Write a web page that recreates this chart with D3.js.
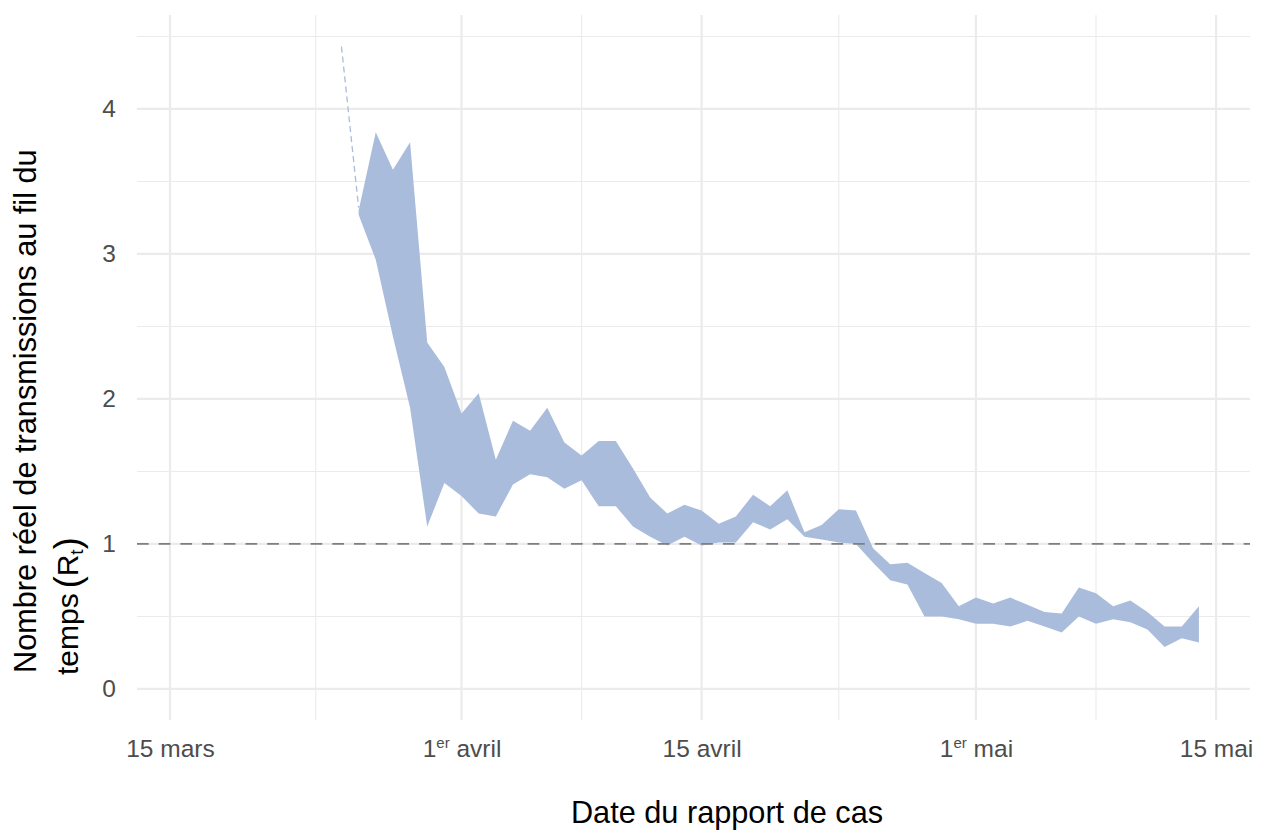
<!DOCTYPE html>
<html>
<head>
<meta charset="utf-8">
<script src="https://cdn.jsdelivr.net/npm/d3@7"></script>
<style>
  body { margin: 0; background: #fff; }
  text { font-family: "Liberation Sans", Arial, sans-serif; }
</style>
</head>
<body>
<svg id="chart" width="1268" height="831"></svg>
<script>
// ribbon (daily Rt interval)
const ribbonDates = [
  "2020-03-26","2020-03-27","2020-03-28","2020-03-29","2020-03-30","2020-03-31",
  "2020-04-01","2020-04-02","2020-04-03","2020-04-04","2020-04-05","2020-04-06",
  "2020-04-07","2020-04-08","2020-04-09","2020-04-10","2020-04-11","2020-04-12",
  "2020-04-13","2020-04-14","2020-04-15","2020-04-16","2020-04-17","2020-04-18",
  "2020-04-19","2020-04-20","2020-04-21","2020-04-22","2020-04-23","2020-04-24",
  "2020-04-25","2020-04-26","2020-04-27","2020-04-28","2020-04-29","2020-04-30",
  "2020-05-01","2020-05-02","2020-05-03","2020-05-04","2020-05-05","2020-05-06",
  "2020-05-07","2020-05-08","2020-05-09","2020-05-10","2020-05-11","2020-05-12",
  "2020-05-13","2020-05-14"
];
const rtUpper = [
  3.30, 3.84, 3.58, 3.77, 2.39, 2.22,
  1.90, 2.04, 1.58, 1.85, 1.78, 1.94,
  1.70, 1.61, 1.71, 1.71, 1.52, 1.32,
  1.21, 1.27, 1.23, 1.14, 1.19, 1.34,
  1.26, 1.37, 1.08, 1.13, 1.24, 1.23,
  0.97, 0.86, 0.87, 0.80, 0.73, 0.57,
  0.63, 0.59, 0.63, 0.58, 0.53, 0.52,
  0.70, 0.66, 0.57, 0.61, 0.53, 0.43,
  0.43, 0.57
];
const rtLower = [
  3.27, 2.96, 2.43, 1.94, 1.12, 1.42,
  1.33, 1.21, 1.19, 1.41, 1.48, 1.46,
  1.38, 1.44, 1.26, 1.26, 1.12, 1.05,
  0.99, 1.05, 0.99, 1.01, 1.01, 1.15,
  1.10, 1.17, 1.05, 1.03, 1.01, 1.00,
  0.87, 0.75, 0.72, 0.50, 0.50, 0.48,
  0.45, 0.45, 0.43, 0.47, 0.43, 0.39,
  0.50, 0.45, 0.48, 0.46, 0.41, 0.29,
  0.35, 0.32
];
// first estimate, drawn as a thin dashed line
const earlyDates = ["2020-03-25", "2020-03-26"];
const earlyRt = [4.43, 3.32];

const xTickDates = ["2020-03-15", "2020-04-01", "2020-04-15", "2020-05-01", "2020-05-15"];
const xTickLabels = ["15 mars", "1er avril", "15 avril", "1er mai", "15 mai"];
const yTicks = [0, 1, 2, 3, 4];
const yMinorTicks = [0.5, 1.5, 2.5, 3.5, 4.5];
const threshold = 1;

const svg = d3.select("#chart");
const pLeft = 137, pRight = 1250, pTop = 15, pBottom = 720;
const day = 864e5;
const parse = d3.utcParse("%Y-%m-%d");

const x = d3.scaleUtc()
  .domain([new Date(+parse("2020-03-15") - 1.924 * day), new Date(+parse("2020-05-15") + 1.98 * day)])
  .range([pLeft, pRight]);
const y = d3.scaleLinear().domain([-0.214, 4.648]).range([pBottom, pTop]);

const tickDates = xTickDates.map(parse);
const minorDates = d3.pairs(tickDates).map(([a, b]) => new Date((+a + +b) / 2));

// grid
const grid = svg.append("g");
grid.selectAll(".ymin").data(yMinorTicks).join("line")
  .attr("x1", pLeft).attr("x2", pRight)
  .attr("y1", d => y(d)).attr("y2", d => y(d))
  .attr("stroke", "#ebebeb").attr("stroke-width", 1.1);
grid.selectAll(".xmin").data(minorDates).join("line")
  .attr("x1", d => x(d)).attr("x2", d => x(d))
  .attr("y1", pTop).attr("y2", pBottom)
  .attr("stroke", "#ebebeb").attr("stroke-width", 1.1);
grid.selectAll(".ymaj").data(yTicks).join("line")
  .attr("x1", pLeft).attr("x2", pRight)
  .attr("y1", d => y(d)).attr("y2", d => y(d))
  .attr("stroke", "#ebebeb").attr("stroke-width", 2.2);
grid.selectAll(".xmaj").data(tickDates).join("line")
  .attr("x1", d => x(d)).attr("x2", d => x(d))
  .attr("y1", pTop).attr("y2", pBottom)
  .attr("stroke", "#ebebeb").attr("stroke-width", 2.2);

// ribbon
const rows = ribbonDates.map((d, i) => ({ date: parse(d), hi: rtUpper[i], lo: rtLower[i] }));
const area = d3.area()
  .x(d => x(d.date))
  .y0(d => y(d.lo))
  .y1(d => y(d.hi));
svg.append("path").datum(rows)
  .attr("d", area)
  .attr("fill", "#aabcdb");

const early = earlyDates.map((d, i) => ({ date: parse(d), v: earlyRt[i] }));
svg.append("path").datum(early)
  .attr("d", d3.line().x(d => x(d.date)).y(d => y(d.v)))
  .attr("fill", "none")
  .attr("stroke", "#aabcdb")
  .attr("stroke-width", 1.3)
  .attr("stroke-dasharray", "6 4");

// Rt = 1
svg.append("line")
  .attr("x1", pLeft).attr("x2", pRight)
  .attr("y1", y(threshold)).attr("y2", y(threshold))
  .attr("stroke", "#7f7f7f").attr("stroke-width", 1.7)
  .attr("stroke-dasharray", "11.7 10");

// axes
const xAxis = svg.append("g")
  .attr("transform", `translate(0,${pBottom})`)
  .call(d3.axisBottom(x).tickValues(tickDates).tickSize(0).tickPadding(20));
xAxis.select(".domain").remove();
xAxis.selectAll("text")
  .attr("font-size", 24.5)
  .attr("fill", "#4d4d4d")
  .style("font-family", "Liberation Sans, Arial, sans-serif")
  .each(function (d, i) {
    const m = xTickLabels[i].match(/^(\d+)(er)?(.*)$/);
    const t = d3.select(this).text(null);
    t.append("tspan").text(m[1]);
    if (m[2]) t.append("tspan").attr("font-size", 15).attr("dy", -9).text(m[2]);
    t.append("tspan").attr("dy", m[2] ? 9 : 0).text(m[3]);
  });

const yAxis = svg.append("g")
  .attr("transform", `translate(${pLeft},0)`)
  .call(d3.axisLeft(y).tickValues(yTicks).tickFormat(d3.format("d")).tickSize(0).tickPadding(21));
yAxis.select(".domain").remove();
yAxis.selectAll("text")
  .attr("font-size", 24.5)
  .attr("fill", "#4d4d4d")
  .style("font-family", "Liberation Sans, Arial, sans-serif");

// titles
svg.append("text")
  .attr("x", 727).attr("y", 823)
  .attr("text-anchor", "middle")
  .attr("font-size", 30.7)
  .attr("fill", "#000")
  .text("Date du rapport de cas");

svg.append("text")
  .attr("transform", "translate(36,673) rotate(-90)")
  .attr("font-size", 30.7)
  .attr("fill", "#000")
  .text("Nombre réel de transmissions au fil du");

const t2 = svg.append("text")
  .attr("transform", "translate(78,675) rotate(-90)")
  .attr("font-size", 30)
  .attr("fill", "#000");
t2.append("tspan").text("temps");
t2.append("tspan").attr("font-size", 36).attr("dx", 5).attr("dy", 1.5).text("(");
t2.append("tspan").attr("dy", -1.5).text("R");
t2.append("tspan").attr("font-size", 19).attr("dy", 5).text("t");
t2.append("tspan").attr("font-size", 36).attr("dy", -3.5).text(")");
</script>
</body>
</html>
